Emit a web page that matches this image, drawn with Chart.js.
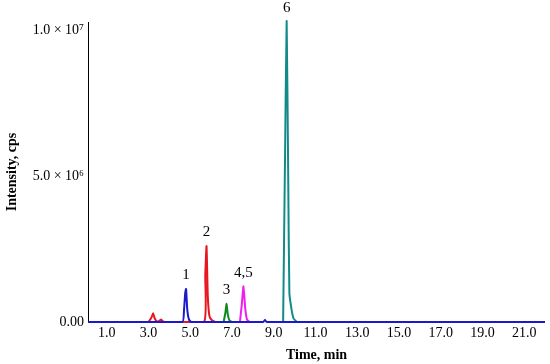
<!DOCTYPE html>
<html lang="en">
<head>
  <meta charset="UTF-8">
  <title>Chromatogram</title>
  <style>
    html, body { margin: 0; padding: 0; background: #fff; }
    #wrap { width: 550px; height: 364px; }
  </style>
</head>
<body>
  <div id="wrap"><canvas id="chart"></canvas></div>
  <script src="https://cdn.jsdelivr.net/npm/chart.js"></script>
  <script>
    // traces: time (min) and intensity (cps)
    const blueTime  = [0.1, 4.62, 4.7, 4.76, 4.8, 4.86, 4.94, 5.05, 8.5, 8.58, 8.66, 22.0];
    const blueInt   = [0, 0, 4.0e5, 1.0e6, 1.13e6, 4.0e5, 8.0e4, 0, 0, 7.0e4, 0, 0];

    const redTime   = [3.0, 3.14, 3.22, 3.3, 3.4, 3.52, 3.6, 3.68, 3.8, 5.66, 5.72, 5.78, 5.84, 5.92, 6.05, 6.2];
    const redInt    = [0, 1.5e5, 3.0e5, 1.2e5, 2.0e4, 4.0e4, 9.0e4, 2.0e4, 0, 0, 1.6e6, 2.6e6, 9.0e5, 2.0e5, 5.0e4, 0];

    const greenTime = [6.6, 6.68, 6.74, 6.8, 6.88, 7.0];
    const greenInt  = [0, 3.0e5, 6.2e5, 2.5e5, 5.0e4, 0];

    const pinkTime  = [7.38, 7.47, 7.55, 7.63, 7.72, 7.85];
    const pinkInt   = [0, 6.0e5, 1.22e6, 5.0e5, 8.0e4, 0];

    const tealTime  = [9.45, 9.54, 9.62, 9.7, 9.75, 9.85, 9.95, 10.1];
    const tealInt   = [0, 5.5e6, 1.03e7, 4.5e6, 1.0e6, 4.5e5, 1.2e5, 0];

    const xTicks = [1, 3, 5, 7, 9, 11, 13, 15, 17, 19, 21];
    const yTicks = [0, 5e6, 1e7];
    const yTickLabels = ['0.00', '5.0 \u00d7 10\u2076', '1.0 \u00d7 10\u2077'];

    const peakLabels = ['1', '2', '3', '4,5', '6'];
    const peakX = [4.8, 5.78, 6.74, 7.55, 9.62];
    const peakY = [1.13e6, 2.6e6, 6.2e5, 1.22e6, 1.03e7];

    const pts = (t, v) => t.map((x, i) => ({ x: x, y: v[i] }));
    const serif = '"Liberation Serif", "DejaVu Serif", serif';

    const peakLabelPlugin = {
      id: 'peakLabels',
      afterDatasetsDraw(chart) {
        const ctx = chart.ctx;
        const xs = chart.scales.x, ys = chart.scales.y;
        ctx.save();
        ctx.font = '15px ' + serif;
        ctx.fillStyle = '#000';
        ctx.textAlign = 'center';
        ctx.textBaseline = 'bottom';
        peakLabels.forEach((lab, i) => {
          ctx.fillText(lab, xs.getPixelForValue(peakX[i]), ys.getPixelForValue(peakY[i]) - 6);
        });
        ctx.restore();
      }
    };

    const line = (data, color, order) => ({
      data: data,
      borderColor: color,
      borderWidth: 2,
      pointRadius: 0,
      tension: 0.15,
      fill: false,
      clip: false,
      order: order
    });

    new Chart(document.getElementById('chart'), {
      type: 'line',
      data: {
        datasets: [
          line(pts(blueTime, blueInt), '#1a1acc', 0),
          line(pts(redTime, redInt), '#e8141e', 1),
          line(pts(greenTime, greenInt), '#0f8a1e', 2),
          line(pts(pinkTime, pinkInt), '#f01ef0', 3),
          line(pts(tealTime, tealInt), '#138a8a', 4)
        ]
      },
      options: {
        responsive: true,
        maintainAspectRatio: false,
        animation: false,
        layout: { padding: { top: 22, right: 5, left: 4, bottom: 0 } },
        plugins: { legend: { display: false }, tooltip: { enabled: false } },
        scales: {
          x: {
            type: 'linear',
            min: 0.1,
            max: 22,
            afterBuildTicks: (s) => { s.ticks = xTicks.map(v => ({ value: v })); },
            afterFit: (s) => { s.height = 42; },
            grid: { display: false, drawTicks: false },
            border: { display: false },
            ticks: {
              color: '#000',
              padding: 3,
              maxRotation: 0,
              autoSkip: false,
              font: { family: serif, size: 14 },
              callback: (v) => v.toFixed(1)
            },
            title: {
              display: true,
              text: 'Time, min',
              color: '#000',
              padding: { top: 4, bottom: 0 },
              font: { family: serif, size: 14, weight: 'bold' }
            }
          },
          y: {
            min: 0,
            max: 1.027e7,
            afterBuildTicks: (s) => { s.ticks = yTicks.map(v => ({ value: v })); },
            afterFit: (s) => { s.width = 84; },
            grid: { display: false, drawTicks: false },
            border: { display: true, color: '#000', width: 1 },
            ticks: {
              color: '#000',
              padding: 4,
              autoSkip: false,
              font: { family: serif, size: 14 },
              callback: (v) => yTickLabels[yTicks.indexOf(v)]
            },
            title: {
              display: true,
              text: 'Intensity, cps',
              color: '#000',
              padding: { top: 0, bottom: 0 },
              font: { family: serif, size: 14, weight: 'bold' }
            }
          }
        }
      },
      plugins: [peakLabelPlugin]
    });
  </script>
</body>
</html>
